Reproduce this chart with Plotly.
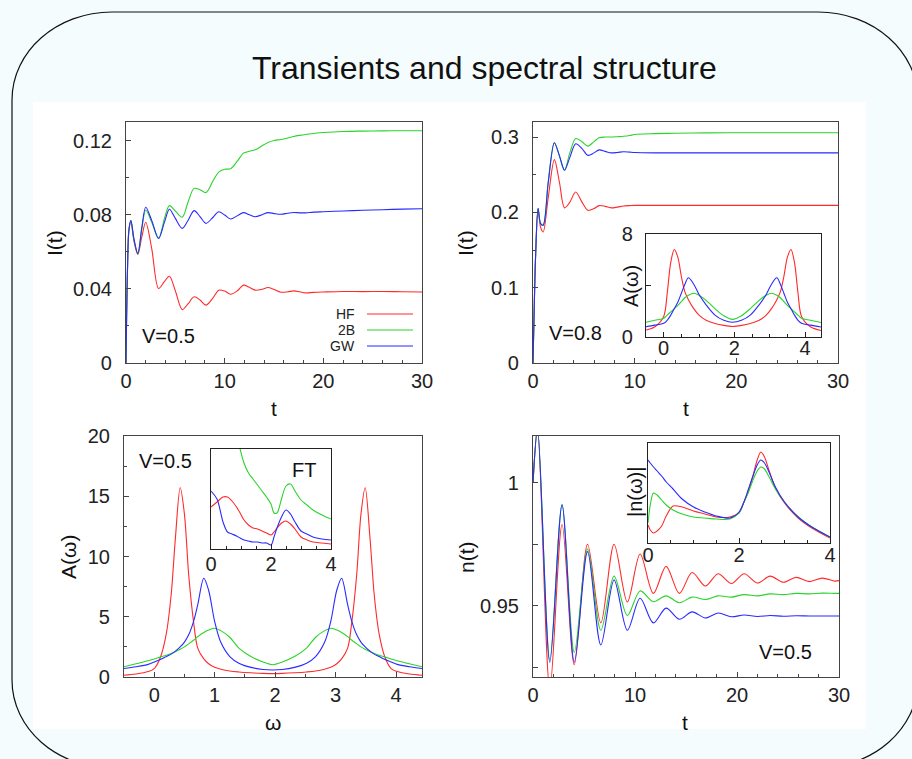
import plotly.graph_objects as go

W, H = 912, 759
RED, GREEN, BLUE = "#ff2a2a", "#2ad42a", "#2a2aff"
FONT = "Liberation Sans, Arial, sans-serif"

# ---------------- data ----------------
# Panel 1: I(t), V=0.5
t1 = [0, 0.15, 0.3, 0.5, 0.8, 1.2, 1.6, 2.0, 2.6, 3.3, 3.9, 4.4, 5.0, 5.7, 6.3, 6.9, 7.5, 8.1, 8.8, 9.4,
      10.0, 10.6, 11.3, 11.9, 12.5, 13.1, 13.8, 14.4, 15.0, 15.7, 16.4, 17.0, 17.6, 18.2, 19, 20, 22, 24, 26, 28, 30]
i1_hf = [0, 0.05, 0.072, 0.0765, 0.066, 0.0585, 0.068, 0.0759, 0.062, 0.0402, 0.044, 0.0468, 0.039, 0.0288, 0.032,
         0.0357, 0.034, 0.0312, 0.035, 0.0393, 0.0388, 0.0371, 0.039, 0.042, 0.0408, 0.0393, 0.0398, 0.0407, 0.0396,
         0.0382, 0.0384, 0.0389, 0.0384, 0.0378, 0.0381, 0.0383, 0.0386, 0.0385, 0.0386, 0.0384, 0.0383]
i1_2b = [0, 0.05, 0.072, 0.0768, 0.067, 0.059, 0.072, 0.0825, 0.076, 0.0672, 0.078, 0.0849, 0.082, 0.0786, 0.087,
         0.0942, 0.0935, 0.0919, 0.098, 0.1030, 0.1045, 0.1048, 0.109, 0.1132, 0.1142, 0.1150, 0.1172, 0.1190, 0.1200,
         0.1206, 0.1214, 0.1222, 0.1228, 0.1233, 0.1238, 0.1243, 0.1249, 0.1251, 0.1252, 0.1253, 0.1253]
i1_gw = [0, 0.05, 0.072, 0.0768, 0.067, 0.059, 0.073, 0.084, 0.077, 0.0672, 0.076, 0.0829, 0.078, 0.0726, 0.077,
         0.0822, 0.079, 0.0753, 0.0785, 0.0816, 0.0798, 0.0777, 0.0795, 0.0811, 0.080, 0.0789, 0.080, 0.0811, 0.0806,
         0.0802, 0.0808, 0.0812, 0.0810, 0.0810, 0.0814, 0.0816, 0.0820, 0.0824, 0.0827, 0.0830, 0.0832]

# Panel 2: I(t), V=0.8
t2 = [0, 0.1, 0.25, 0.5, 0.75, 1.0, 1.5, 2.1, 2.6, 3.1, 3.6, 4.2, 4.8, 5.4, 6.0, 6.5, 7.1, 7.7, 8.3, 8.9,
      9.5, 10, 12, 14, 17, 20, 25, 30]
i2_hf = [0, 0.06, 0.14, 0.205, 0.18, 0.174, 0.22, 0.270, 0.24, 0.206, 0.213, 0.227, 0.214, 0.2027, 0.205, 0.209,
         0.208, 0.206, 0.207, 0.2085, 0.209, 0.2093, 0.2093, 0.2093, 0.2093, 0.2093, 0.2093, 0.2093]
i2_2b = [0, 0.06, 0.14, 0.205, 0.185, 0.183, 0.24, 0.2925, 0.275, 0.256, 0.278, 0.298, 0.294, 0.288, 0.294, 0.299,
         0.300, 0.300, 0.3005, 0.301, 0.302, 0.3035, 0.3045, 0.305, 0.3055, 0.3057, 0.3058, 0.3058]
i2_gw = [0, 0.06, 0.14, 0.205, 0.185, 0.183, 0.24, 0.2925, 0.275, 0.256, 0.272, 0.291, 0.285, 0.2757, 0.279, 0.283,
         0.281, 0.279, 0.2795, 0.2805, 0.280, 0.2795, 0.279, 0.279, 0.279, 0.279, 0.279, 0.279]

# Panel 2 inset: A(w), V=0.8
w2 = [-0.5, -0.25, 0, 0.1, 0.2, 0.3, 0.4, 0.5, 0.6, 0.7, 0.85, 1.0, 1.2, 1.45, 1.7, 1.95, 2.2, 2.45, 2.7, 2.9,
      3.05, 3.2, 3.3, 3.4, 3.5, 3.6, 3.7, 3.8, 3.9, 4.15, 4.45]
a2_hf = [0.54, 0.8, 1.6, 3.4, 5.8, 6.8, 6.2, 4.7, 3.5, 2.9, 2.2, 1.7, 1.3, 1.05, 0.9, 0.82, 0.9, 1.05, 1.3, 1.7,
         2.2, 2.9, 3.5, 4.7, 6.2, 6.8, 5.8, 3.4, 1.6, 0.8, 0.5]
a2_2b = [1.14, 1.3, 1.45, 1.7, 1.95, 2.2, 2.45, 2.75, 3.05, 3.25, 3.4, 3.25, 2.85, 2.2, 1.65, 1.37, 1.65, 2.2, 2.85,
         3.25, 3.4, 3.25, 3.05, 2.75, 2.45, 2.2, 1.95, 1.7, 1.45, 1.3, 1.12]
a2_gw = [0.8, 0.92, 1.06, 1.3, 1.7, 2.2, 2.7, 3.4, 4.1, 4.6, 4.1, 3.3, 2.5, 1.7, 1.3, 1.14, 1.3, 1.7, 2.5, 3.3,
         4.1, 4.6, 4.1, 3.4, 2.7, 2.2, 1.7, 1.3, 1.06, 0.92, 0.78]

# Panel 3: A(w), V=0.5
w3 = [-0.5, -0.3, -0.1, 0, 0.1, 0.2, 0.28, 0.35, 0.43, 0.5, 0.57, 0.65, 0.72, 0.82, 0.9, 1.0, 1.1, 1.25, 1.4, 1.6,
      1.8, 1.96, 2.12, 2.32, 2.52, 2.67, 2.82, 2.92, 3.02, 3.10, 3.20, 3.27, 3.35, 3.42, 3.49, 3.57, 3.64, 3.72,
      3.82, 3.92, 4.02, 4.22, 4.43]
a3_hf = [0.15, 0.25, 0.45, 0.7, 1.6, 3.6, 6.8, 11.5, 15.7, 13.5, 8.5, 4.6, 2.4, 1.5, 1.1, 0.8, 0.65, 0.5, 0.42, 0.35,
         0.3, 0.28, 0.3, 0.35, 0.42, 0.5, 0.65, 0.8, 1.1, 1.5, 2.4, 4.6, 8.5, 13.5, 15.7, 11.5, 6.8, 3.6, 1.6, 0.7,
         0.45, 0.25, 0.15]
a3_2b = [0.85, 1.1, 1.35, 1.5, 1.65, 1.8, 1.95, 2.1, 2.3, 2.5, 2.75, 3.05, 3.35, 3.7, 3.9, 4.05, 3.85, 3.3, 2.4, 1.7,
         1.25, 1.02, 1.25, 1.7, 2.4, 3.3, 3.85, 4.05, 3.9, 3.7, 3.35, 3.05, 2.75, 2.5, 2.3, 2.1, 1.95, 1.8, 1.65,
         1.5, 1.35, 1.1, 0.85]
a3_gw = [0.7, 0.85, 1.05, 1.25, 1.45, 1.7, 1.9, 2.15, 2.5, 2.9, 3.5, 4.6, 6.0, 8.2, 7.2, 4.6, 2.9, 1.7, 1.15, 0.8,
         0.62, 0.58, 0.62, 0.8, 1.15, 1.7, 2.9, 4.6, 7.2, 8.2, 6.0, 4.6, 3.5, 2.9, 2.5, 2.15, 1.9, 1.7, 1.45, 1.25,
         1.05, 0.85, 0.7]

# Panel 3 inset: FT (arbitrary units)
w5 = [0, 0.2, 0.4, 0.55, 0.7, 0.85, 0.97, 1.1, 1.25, 1.4, 1.55, 1.7, 1.85, 2.0, 2.1, 2.2, 2.35, 2.5, 2.65, 2.8,
      3.0, 3.2, 3.4, 3.7, 4.0]
f5_hf = [0.42, 0.47, 0.52, 0.52, 0.48, 0.42, 0.36, 0.29, 0.24, 0.21, 0.20, 0.18, 0.16, 0.14, 0.17, 0.21, 0.26, 0.28,
         0.25, 0.20, 0.12, 0.09, 0.07, 0.06, 0.05]
f5_2b = [2.0, 1.8, 1.6, 1.45, 1.3, 1.15, 1.0, 0.86, 0.76, 0.70, 0.64, 0.58, 0.52, 0.45, 0.36, 0.36, 0.50, 0.63,
         0.65, 0.58, 0.49, 0.44, 0.39, 0.34, 0.30]
f5_gw = [0.58, 0.5, 0.27, 0.17, 0.15, 0.13, 0.11, 0.09, 0.08, 0.07, 0.07, 0.06, 0.06, 0.04, 0.12, 0.21, 0.32, 0.39,
         0.35, 0.27, 0.18, 0.15, 0.12, 0.10, 0.09]

# Panel 4: n(t), V=0.5
t4 = [0, 0.45, 1.65, 2.85, 4.05, 5.35, 6.65, 7.95, 9.25, 10.5, 11.8, 13.05, 14.35, 15.6, 16.9, 18.15, 19.45, 20.7,
      22.0, 23.25, 24.55, 25.8, 27.1, 28.35, 29.6, 30]
n4_hf = [1.0, 1.022, 0.916, 0.983, 0.926, 0.975, 0.943, 0.975, 0.9515, 0.971, 0.955, 0.966, 0.955, 0.9635, 0.958,
         0.963, 0.959, 0.963, 0.9592, 0.962, 0.9595, 0.9615, 0.9598, 0.9612, 0.960, 0.9602]
n4_2b = [1.0, 1.022, 0.928, 0.991, 0.931, 0.973, 0.940, 0.962, 0.946, 0.956, 0.9516, 0.954, 0.9512, 0.9535, 0.9525,
         0.954, 0.9535, 0.9545, 0.954, 0.9548, 0.9545, 0.955, 0.9548, 0.9551, 0.955, 0.955]
n4_gw = [1.0, 1.022, 0.927, 0.991, 0.927, 0.972, 0.934, 0.9605, 0.940, 0.953, 0.943, 0.949, 0.9445, 0.9475, 0.945,
         0.947, 0.9455, 0.9462, 0.9456, 0.946, 0.9457, 0.9459, 0.9458, 0.9458, 0.9458, 0.9458]

# Panel 4 inset: |n(w)| (arbitrary units)
w7 = [0, 0.05, 0.12, 0.2, 0.3, 0.4, 0.55, 0.75, 1.0, 1.25, 1.5, 1.8, 2.0, 2.1, 2.2, 2.3, 2.4, 2.48, 2.56, 2.65,
      2.8, 3.0, 3.3, 3.6, 4.0]
m7_hf = [0.18, 0.13, 0.10, 0.12, 0.17, 0.27, 0.37, 0.36, 0.32, 0.29, 0.26, 0.26, 0.30, 0.40, 0.51, 0.66, 0.83, 0.91,
         0.86, 0.74, 0.55, 0.40, 0.25, 0.15, 0.05]
m7_2b = [0.20, 0.38, 0.50, 0.48, 0.43, 0.38, 0.33, 0.29, 0.26, 0.25, 0.24, 0.24, 0.30, 0.40, 0.50, 0.62, 0.72, 0.76,
         0.74, 0.67, 0.54, 0.41, 0.26, 0.16, 0.06]
m7_gw = [0.83, 0.80, 0.76, 0.72, 0.67, 0.61, 0.54, 0.44, 0.36, 0.31, 0.27, 0.25, 0.31, 0.40, 0.53, 0.66, 0.78, 0.83,
         0.80, 0.72, 0.56, 0.41, 0.26, 0.16, 0.06]

series_names = ["HF", "2B", "GW"]
colors = [RED, GREEN, BLUE]


# ---------------- helpers ----------------
def fx(px):
    return px / W


def fy(py):
    return 1 - py / H


fig = go.Figure()


def add3(x, ys, xa, ya):
    for name, y, c in zip(series_names, ys, colors):
        fig.add_trace(go.Scatter(x=x, y=y, mode="lines", name=name, xaxis=xa, yaxis=ya,
                                 line=dict(color=c, width=1.1, shape="spline", smoothing=0.9),
                                 showlegend=False, hoverinfo="skip"))


add3(t1, [i1_hf, i1_2b, i1_gw], "x", "y")
add3(t2, [i2_hf, i2_2b, i2_gw], "x2", "y2")
add3(w2, [a2_hf, a2_2b, a2_gw], "x3", "y3")
add3(w3, [a3_hf, a3_2b, a3_gw], "x4", "y4")
add3(w5, [f5_hf, f5_2b, f5_gw], "x5", "y5")
add3(t4, [n4_hf, n4_2b, n4_gw], "x6", "y6")
add3(w7, [m7_hf, m7_2b, m7_gw], "x7", "y7")

TF = dict(family=FONT, size=20, color="#222")
LC = "#444"


def ax(domain_px, rng, anchor, dtick=None, minor=None, tickvals=None, ticktext=None, showlabels=True,
       standoff=4, vertical=False, ticks=True, lc=LC):
    lo, hi = domain_px
    dom = [fy(hi), fy(lo)] if vertical else [fx(lo), fx(hi)]
    d = dict(domain=dom, range=rng, anchor=anchor, showgrid=False, zeroline=False, showline=True,
             mirror=True, linecolor=lc, linewidth=1.2, ticks="inside" if ticks else "",
             ticklen=5, tickcolor=lc, tickwidth=1, tickfont=TF, showticklabels=showlabels,
             ticklabelstandoff=standoff, fixedrange=True, automargin=False)
    if dtick is not None:
        d["dtick"] = dtick
        d["tick0"] = 0
    if tickvals is not None:
        d["tickmode"] = "array"
        d["tickvals"] = tickvals
        d["ticktext"] = ticktext
    if minor is not None:
        d["minor"] = dict(ticks="inside", ticklen=3, dtick=minor, tick0=0, tickcolor=lc, showgrid=False)
    return d


layout = dict(
    width=W, height=H, margin=dict(l=0, r=0, t=0, b=0, pad=0), autosize=False,
    paper_bgcolor="#f5fcfd", plot_bgcolor="rgba(0,0,0,0)", showlegend=False,
    # panel 1
    xaxis=ax((126, 422), [0, 30], "y", dtick=10, minor=2, standoff=0),
    yaxis=ax((122, 363), [0, 0.13], "x", tickvals=[0, 0.04, 0.08, 0.12], ticktext=["0", "0.04", "0.08", "0.12"],
             minor=0.02, vertical=True, standoff=9),
    # panel 2
    xaxis2=ax((533, 838), [0, 30], "y2", dtick=10, minor=2, standoff=0),
    yaxis2=ax((122, 363), [0, 0.32], "x2", tickvals=[0, 0.1, 0.2, 0.3], ticktext=["0", "0.1", "0.2", "0.3"],
              minor=0.05, vertical=True, standoff=9),
    # panel 2 inset
    xaxis3=ax((646, 821), [-0.5, 4.45], "y3", tickvals=[0, 2, 4], ticktext=["0", "2", "4"], minor=0.5,
              standoff=-7, lc="#222"),
    yaxis3=ax((234, 337), [0, 8], "x3", tickvals=[0, 4, 8], ticktext=["0", "", "8"], vertical=True,
              standoff=8, lc="#222"),
    # panel 3
    xaxis4=ax((124, 422), [-0.5, 4.43], "y4", dtick=1, minor=0.5, standoff=0),
    yaxis4=ax((436, 677), [0, 20], "x4", dtick=5, minor=2.5, vertical=True, standoff=9),
    # panel 3 inset
    xaxis5=ax((211, 331), [0, 4], "y5", tickvals=[0, 2, 4], ticktext=["0", "2", "4"], minor=0.5,
              standoff=-3, lc="#222"),
    yaxis5=ax((449, 549), [0, 1], "x5", showlabels=False, vertical=True, ticks=False, lc="#222"),
    # panel 4
    xaxis6=ax((533, 839), [0, 30], "y6", dtick=10, minor=2, standoff=0),
    yaxis6=ax((436, 677), [0.921, 1.019], "x6", tickvals=[0.925, 0.95, 0.975, 1.0],
              ticktext=["", "0.95", "", "1"], vertical=True, standoff=9),
    # panel 4 inset
    xaxis7=ax((648, 830), [0, 4], "y7", tickvals=[0, 2, 4], ticktext=["0", "2", "4"], minor=0.5,
              standoff=-6, lc="#222"),
    yaxis7=ax((443, 543), [0, 1], "x7", showlabels=False, vertical=True, ticks=False, lc="#222"),
)
fig.update_layout(**layout)


# ---------------- frame (rounded slide box + white panel) ----------------
def rounded_path(x0, y0, x1, y1, rx, ry):
    k = 0.5523
    pts = [
        ("M", [(x0, y0 + ry)]),
        ("C", [(x0, y0 + ry - k * ry), (x0 + rx - k * rx, y0), (x0 + rx, y0)]),
        ("L", [(x1 - rx, y0)]),
        ("C", [(x1 - rx + k * rx, y0), (x1, y0 + ry - k * ry), (x1, y0 + ry)]),
        ("L", [(x1, y1 - ry)]),
        ("C", [(x1, y1 - ry + k * ry), (x1 - rx + k * rx, y1), (x1 - rx, y1)]),
        ("L", [(x0 + rx, y1)]),
        ("C", [(x0 + rx - k * rx, y1), (x0, y1 - ry + k * ry), (x0, y1 - ry)]),
    ]
    s = ""
    for cmd, ps in pts:
        s += cmd + " " + " ".join(f"{fx(a):.5f},{fy(b):.5f}" for a, b in ps) + " "
    return s + "Z"


shapes = [
    dict(type="path", xref="paper", yref="paper", path=rounded_path(12, 12, 918, 768, 100, 88),
         line=dict(color="#111", width=1.2), fillcolor="#f5fcfd", layer="below"),
    dict(type="rect", xref="paper", yref="paper", x0=fx(33), x1=fx(866), y0=fy(729), y1=fy(102),
         line=dict(width=0), fillcolor="white", layer="below"),
]

# legend of panel 1 (text left, sample right)
ann = []
for name, c, py in zip(series_names, colors, [314, 330, 346]):
    shapes.append(dict(type="line", xref="paper", yref="paper", x0=fx(367), x1=fx(413), y0=fy(py), y1=fy(py),
                       line=dict(color=c, width=1.2)))
    ann.append(dict(text=name, x=fx(357), y=fy(py), xref="paper", yref="paper", xanchor="right",
                    yanchor="middle", showarrow=False, font=dict(family=FONT, size=14, color="#222")))

fig.update_layout(shapes=shapes)


def label(text, px, py, size=21, angle=0):
    ann.append(dict(text=text, x=fx(px), y=fy(py), xref="paper", yref="paper", xanchor="center",
                    yanchor="middle", showarrow=False, textangle=angle,
                    font=dict(family=FONT, size=size, color="#111")))


label("Transients and spectral structure", 484, 68, size=32)
label("I(t)", 55, 243, angle=-90)
label("t", 274, 408)
label("I(t)", 466, 243, angle=-90)
label("t", 686, 408)
label("A(ω)", 68, 557, angle=-90)
label("ω", 273, 722)
label("n(t)", 466, 557, angle=-90)
label("t", 685, 722)
label("A(ω)", 631, 286, angle=-90, size=20)
label("|n(ω)|", 635, 492, angle=-90, size=20)
label("V=0.5", 168, 336, size=20)
label("V=0.8", 575, 333, size=20)
label("V=0.5", 165, 461, size=20)
label("FT", 304, 470, size=20)
label("V=0.5", 785, 652, size=20)

fig.update_layout(annotations=ann)
fig.write_html("out.html", config={"displayModeBar": False},
               post_script="document.body.style.margin='0';document.body.style.overflow='hidden';")
